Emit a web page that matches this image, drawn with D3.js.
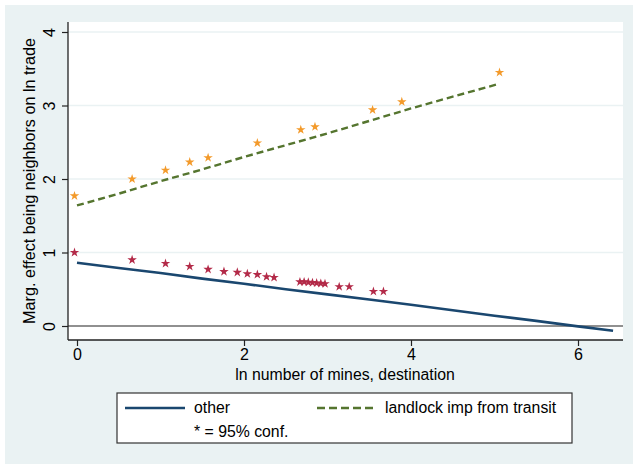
<!DOCTYPE html>
<html>
<head>
<meta charset="utf-8">
<script src="https://cdn.jsdelivr.net/npm/d3@7"></script>
<style>
  html, body { margin: 0; padding: 0; background: #ffffff; }
  svg { display: block; }
  text { font-family: "Liberation Sans", Arial, sans-serif; fill: #000; }
</style>
</head>
<body>
<script>
// ---- data ----
const xTicks = [0, 2, 4, 6];
const yTicks = [0, 1, 2, 3, 4];

const otherX = [0, 0.5, 1, 1.5, 2, 2.5, 3, 3.5, 4, 4.5, 5, 5.5, 6, 6.42];
const otherY = [0.86, 0.79, 0.72, 0.645, 0.575, 0.50, 0.43, 0.36, 0.29, 0.215, 0.14, 0.07, -0.005, -0.064];

const transitX = [0, 0.5, 1, 1.5, 2, 2.5, 3, 3.5, 4, 4.5, 5.04];
const transitY = [1.64, 1.80, 1.97, 2.13, 2.30, 2.46, 2.62, 2.79, 2.96, 3.12, 3.29];

const transitStarX = [-0.03, 0.66, 1.06, 1.35, 1.57, 2.16, 2.68, 2.85, 3.54, 3.89, 5.06];
const transitStarY = [1.77, 2.00, 2.12, 2.23, 2.29, 2.49, 2.67, 2.71, 2.94, 3.05, 3.45];

const otherStarX = [-0.03, 0.66, 1.06, 1.35, 1.57, 1.76, 1.92, 2.04, 2.16, 2.27, 2.36,
                    2.67, 2.72, 2.77, 2.82, 2.87, 2.92, 2.97, 3.14, 3.26, 3.55, 3.67];
const otherStarY = [1.00, 0.90, 0.85, 0.81, 0.77, 0.74, 0.73, 0.71, 0.70, 0.67, 0.66,
                    0.60, 0.60, 0.595, 0.59, 0.585, 0.58, 0.575, 0.535, 0.535, 0.47, 0.47];

const seriesNames = ["other", "landlock imp from transit"];
const noteText = "* = 95% conf.";
const xTitle = "ln number of mines, destination";
const yTitle = "Marg. effect being neighbors on ln trade";

// ---- layout ----
const W = 633, H = 464;
const plot = { left: 68, right: 623, top: 22, bottom: 340 };
const navy = "#1a476f", green = "#55752f", orange = "#f39a2b", red = "#b32a48";
const bg = "#eaf2f3";

const svg = d3.select("body").append("svg").attr("width", W).attr("height", H);

svg.append("rect").attr("x", 5).attr("y", 5).attr("width", W - 5).attr("height", H - 5).attr("fill", bg);
svg.append("rect").attr("x", plot.left).attr("y", plot.top)
  .attr("width", plot.right - plot.left).attr("height", plot.bottom - plot.top).attr("fill", "#fff");

const x = d3.scaleLinear().domain([0, 6]).range([77, 578]);
const y = d3.scaleLinear().domain([0, 4]).range([326, 32]);

// gridlines
svg.append("g").selectAll("line").data(yTicks.filter(d => d !== 0)).join("line")
  .attr("x1", plot.left).attr("x2", plot.right)
  .attr("y1", d => y(d)).attr("y2", d => y(d))
  .attr("stroke", bg).attr("stroke-width", 1.5);

// zero line
svg.append("line").attr("x1", plot.left).attr("x2", plot.right)
  .attr("y1", y(0)).attr("y2", y(0)).attr("stroke", "#222").attr("stroke-width", 1.2);

// axes
const yAxis = d3.axisLeft(y).tickValues(yTicks).tickSize(6).tickFormat(d3.format("d"));
const gy = svg.append("g").attr("transform", `translate(${plot.left},0)`).call(yAxis);
gy.select(".domain").remove();
gy.append("line").attr("x1", 0).attr("x2", 0).attr("y1", plot.top).attr("y2", plot.bottom)
  .attr("stroke", "#222").attr("stroke-width", 1.3);
gy.selectAll(".tick line").attr("stroke", "#222").attr("stroke-width", 1.2);
gy.selectAll(".tick text")
  .attr("x", null).attr("dy", null)
  .attr("transform", "translate(-13,0) rotate(-90)")
  .attr("text-anchor", "middle")
  .attr("dy", "0em")
  .style("font-size", "16px").style("font-family", "'Liberation Sans', Arial, sans-serif");

const xAxis = d3.axisBottom(x).tickValues(xTicks).tickSize(6).tickFormat(d3.format("d"));
const gx = svg.append("g").attr("transform", `translate(0,${plot.bottom})`).call(xAxis);
gx.select(".domain").remove();
gx.append("line").attr("x1", plot.left).attr("x2", plot.right).attr("y1", 0).attr("y2", 0)
  .attr("stroke", "#222").attr("stroke-width", 1.3);
gx.selectAll(".tick line").attr("stroke", "#222").attr("stroke-width", 1.2);
gx.selectAll(".tick text").attr("y", 9).attr("dy", "0.71em")
  .style("font-size", "16px").style("font-family", "'Liberation Sans', Arial, sans-serif");

// titles
svg.append("text").attr("x", 345).attr("y", 380).attr("text-anchor", "middle")
  .style("font-size", "15.8px").text(xTitle);
svg.append("text").attr("transform", `translate(35,${(43 + 319) / 2}) rotate(-90)`)
  .attr("text-anchor", "middle").style("font-size", "16.2px").text(yTitle);

// lines
const lineGen = d3.line().x(d => x(d[0])).y(d => y(d[1]));
svg.append("path").datum(otherX.map((v, i) => [v, otherY[i]]))
  .attr("d", lineGen).attr("fill", "none").attr("stroke", navy).attr("stroke-width", 2.6);
svg.append("path").datum(transitX.map((v, i) => [v, transitY[i]]))
  .attr("d", lineGen).attr("fill", "none").attr("stroke", green).attr("stroke-width", 2.4)
  .attr("stroke-dasharray", "7,4");

// stars
const star = d3.symbol().type(d3.symbolStar).size(28);
svg.append("g").selectAll("path").data(transitStarX.map((v, i) => [v, transitStarY[i]])).join("path")
  .attr("d", star).attr("transform", d => `translate(${x(d[0])},${y(d[1])})`).attr("fill", orange);
svg.append("g").selectAll("path").data(otherStarX.map((v, i) => [v, otherStarY[i]])).join("path")
  .attr("d", star).attr("transform", d => `translate(${x(d[0])},${y(d[1])})`).attr("fill", red);

// legend
const lg = svg.append("g");
lg.append("rect").attr("x", 117).attr("y", 393).attr("width", 455).attr("height", 50)
  .attr("fill", "#fff").attr("stroke", "#333").attr("stroke-width", 1.2);
lg.append("line").attr("x1", 125).attr("x2", 185).attr("y1", 408).attr("y2", 408)
  .attr("stroke", navy).attr("stroke-width", 2.6);
lg.append("text").attr("x", 194).attr("y", 413).style("font-size", "15.8px").text(seriesNames[0]);
lg.append("line").attr("x1", 317).attr("x2", 377).attr("y1", 408).attr("y2", 408)
  .attr("stroke", green).attr("stroke-width", 2.4).attr("stroke-dasharray", "8,4");
lg.append("text").attr("x", 385).attr("y", 413).style("font-size", "15.8px").text(seriesNames[1]);
lg.append("text").attr("x", 194).attr("y", 437).style("font-size", "15.8px").text(noteText);
</script>
</body>
</html>
